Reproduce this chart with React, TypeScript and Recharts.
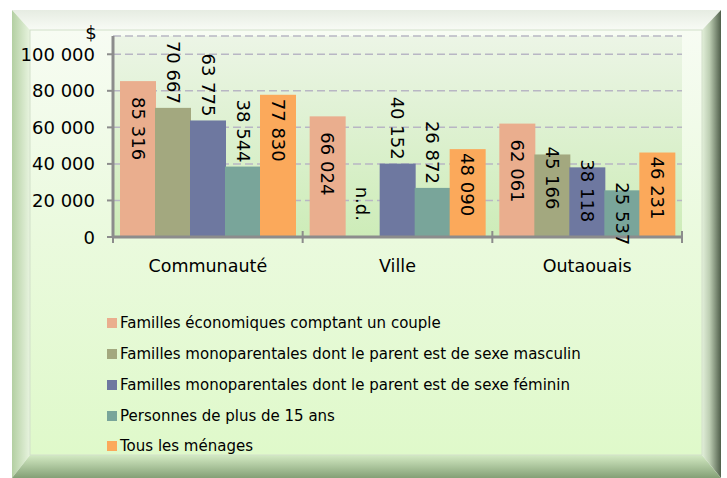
import React from 'react';
import { BarChart, Bar, XAxis, YAxis, CartesianGrid, Legend, LabelList } from 'recharts';

// ---------- data ----------
const categories = ['Communauté', 'Ville', 'Outaouais'];
const seriesNames = [
  'Familles économiques comptant un couple',
  'Familles monoparentales dont le parent est de sexe masculin',
  'Familles monoparentales dont le parent est de sexe féminin',
  'Personnes de plus de 15 ans',
  'Tous les ménages',
];
const famillesCouple = [85316, 66024, 62061];
const monoMasculin: (number | null)[] = [70667, null, 45166];
const monoFeminin = [63775, 40152, 38118];
const personnes15 = [38544, 26872, 25537];
const tousMenages = [77830, 48090, 46231];
const yTicks = [0, 20000, 40000, 60000, 80000, 100000];
const yMax = 110000;
const unitLabel = '$';
const notAvailableLabel = 'n.d.';

// ---------- styles ----------
const FONT = '"DejaVu Sans", "Noto Sans", sans-serif';
const seriesKeys = ['s0', 's1', 's2', 's3', 's4'];
const seriesColors = ['#EAAE8E', '#A3A87F', '#6E78A0', '#79A59A', '#FBA95B'];
const labelModes = [
  { mode: 'inside', gap: 16 },
  { mode: 'outside', gap: 4 },
  { mode: 'outside', gap: 4 },
  { mode: 'outside', gap: 4 },
  { mode: 'inside', gap: 4 },
];
const crowdedCategoryIndex = 2;
const AXIS = '#8c8c8c';

const seriesValues = [famillesCouple, monoMasculin, monoFeminin, personnes15, tousMenages];
const data = categories.map((c, i) => {
  const row: any = { category: c };
  seriesKeys.forEach((k, s) => {
    row[k] = seriesValues[s][i];
  });
  return row;
});

const fmt = (v: number) => String(v).replace(/\B(?=(\d{3})+(?!\d))/g, ' ');

const makeLabel = (s: number) => (props: any) => {
  const vb = props.viewBox ?? props;
  const x = vb.x ?? props.x;
  const y = vb.y ?? props.y;
  const width = vb.width ?? props.width;
  const height = vb.height ?? props.height ?? 0;
  if (x == null || y == null || isNaN(x) || isNaN(y)) return null;
  const value = props.value;
  const cx = x + width / 2;
  const top = Math.min(y, y + height);
  let ty: number;
  let anchor: 'start' | 'end';
  let text: string;
  if (value === notAvailableLabel || value == null) {
    text = notAvailableLabel;
    anchor = 'end';
    ty = Math.max(y, y + height) - 16;
  } else {
    text = fmt(Number(value));
    const lm = labelModes[s];
    if (lm.mode === 'inside') {
      anchor = 'start';
      ty = top + lm.gap;
    } else if (props.index === crowdedCategoryIndex) {
      anchor = 'start';
      ty = top - 8;
    } else {
      anchor = 'end';
      ty = top - lm.gap;
    }
  }
  return (
    <text
      x={cx}
      y={ty}
      transform={`rotate(90 ${cx} ${ty})`}
      textAnchor={anchor}
      dominantBaseline="central"
      fontFamily={FONT}
      fontSize={18}
      fill="#000"
    >
      {text}
    </text>
  );
};

const BarShape = (p: any) => {
  if (!(p.height > 0)) return null;
  return <rect x={p.x} y={p.y} width={p.width} height={p.height + 4} fill={p.fill} />;
};

const CategoryTick = (props: any) => {
  const { x, y, payload, index, visibleTicksCount } = props;
  const off = payload?.offset ?? 0;
  const lines = [x - off];
  if (index === (visibleTicksCount ?? categories.length) - 1) lines.push(x + off);
  return (
    <g>
      {lines.map((lx, i) => (
        <line key={i} x1={lx} x2={lx} y1={y - 6} y2={y + 6} stroke={AXIS} strokeWidth={2} />
      ))}
      <text x={x} y={y + 35} textAnchor="middle" fontFamily={FONT} fontSize={17.5} fill="#000">
        {payload.value}
      </text>
    </g>
  );
};

const ValueTick = (props: any) => {
  const { x, y, payload } = props;
  return (
    <text x={x} y={y} textAnchor="end" dominantBaseline="central" fontFamily={FONT} fontSize={18} fill="#000">
      {fmt(payload.value)}
    </text>
  );
};

const renderLegend = (props: any) => {
  const payload = [...(props.payload || [])].sort(
    (a: any, b: any) => seriesNames.indexOf(a.value) - seriesNames.indexOf(b.value)
  );
  return (
    <div style={{ fontFamily: FONT, fontSize: 15, color: '#000' }}>
      {payload.map((e: any) => (
        <div
          key={e.value}
          style={{ display: 'flex', alignItems: 'center', height: 30.75, whiteSpace: 'nowrap' }}
        >
          <span
            style={{ width: 10, height: 10, background: e.color, marginRight: 3, display: 'inline-block' }}
          />
          <span>{e.value}</span>
        </div>
      ))}
    </div>
  );
};

const Frame = () => (
  <svg width={727} height={478} style={{ position: 'absolute', left: 0, top: 0 }}>
    <defs>
      <linearGradient id="panelGrad" x1="0" y1="0" x2="0" y2="1">
        <stop offset="0" stopColor="#f7fcf3" />
        <stop offset="0.45" stopColor="#ebfadf" />
        <stop offset="1" stopColor="#dff9ca" />
      </linearGradient>
      <linearGradient id="plotGrad" x1="0" y1="0" x2="0" y2="1">
        <stop offset="0" stopColor="#ecf5e6" />
        <stop offset="1" stopColor="#cdecb8" />
      </linearGradient>
      <linearGradient id="leftBevel" x1="0" y1="0" x2="1" y2="0">
        <stop offset="0" stopColor="#b3cfa2" />
        <stop offset="1" stopColor="#e8f4df" />
      </linearGradient>
      <linearGradient id="rightBevel" x1="0" y1="0" x2="1" y2="0">
        <stop offset="0" stopColor="#e3f0da" />
        <stop offset="0.4" stopColor="#bccdb2" />
        <stop offset="1" stopColor="#4f5e4a" />
      </linearGradient>
      <linearGradient id="topBevel" x1="0" y1="0" x2="0" y2="1">
        <stop offset="0" stopColor="#e6ece2" />
        <stop offset="1" stopColor="#f8fbf5" />
      </linearGradient>
      <linearGradient id="bottomBevel" x1="0" y1="0" x2="0" y2="1">
        <stop offset="0" stopColor="#d3eac3" />
        <stop offset="1" stopColor="#84a076" />
      </linearGradient>
    </defs>
    <rect x={0} y={0} width={727} height={478} fill="#ffffff" />
    <polygon points="12,10 721,10 702,30 30,30" fill="url(#topBevel)" />
    <polygon points="12,10 30,30 30,455 12,478" fill="url(#leftBevel)" />
    <polygon points="721,10 721,478 702,455 702,30" fill="url(#rightBevel)" />
    <polygon points="12,478 30,455 702,455 721,478" fill="url(#bottomBevel)" />
    <rect x={30} y={30} width={672} height={425} fill="url(#panelGrad)" stroke="#d2dfca" strokeWidth={1} />
  </svg>
);

export default function App() {
  return (
    <div style={{ position: 'absolute', left: 0, top: 0, width: 727, height: 478, overflow: 'hidden' }}>
      <Frame />
      <div style={{ position: 'absolute', left: 0, top: 0 }}>
        <BarChart
          width={727}
          height={478}
          data={data}
          margin={{ top: 36, right: 45, left: 23, bottom: 211 }}
          barCategoryGap={7}
          barGap={-1}
        >
          <CartesianGrid
            vertical={false}
            stroke="#b8b6c4"
            strokeWidth={1.5}
            strokeDasharray="8 4"
            fill="url(#plotGrad)"
            fillOpacity={1}
          />
          {seriesKeys.map((k, s) => (
            <Bar
              key={k}
              dataKey={(d: any) => d[k] ?? 0}
              name={seriesNames[s]}
              fill={seriesColors[s]}
              isAnimationActive={false}
              shape={BarShape}
            >
              <LabelList
                valueAccessor={(entry: any) => {
                  const raw = entry?.payload?.[k];
                  return raw == null ? notAvailableLabel : raw;
                }}
                content={makeLabel(s)}
              />
            </Bar>
          ))}
          <XAxis
            dataKey="category"
            height={30}
            axisLine={{ stroke: AXIS, strokeWidth: 3 }}
            tickLine={false}
            tickSize={0}
            tickMargin={0}
            interval={0}
            tick={<CategoryTick />}
          />
          <YAxis
            width={90}
            domain={[0, yMax]}
            ticks={yTicks}
            allowDataOverflow
            axisLine={{ stroke: AXIS, strokeWidth: 3 }}
            tickLine={{ stroke: AXIS, strokeWidth: 2 }}
            tickSize={6}
            tickMargin={12}
            tick={<ValueTick />}
            label={{
              content: (p: any) => {
                const vb = p.viewBox || {};
                const lx = (vb.x ?? 0) + (vb.width ?? 0) - 22;
                const ly = (vb.y ?? 0) - 4;
                return (
                  <text x={lx} y={ly} textAnchor="middle" dominantBaseline="central" fontFamily={FONT} fontSize={18} fill="#000">
                    {unitLabel}
                  </text>
                );
              },
            }}
          />
          <Legend
            layout="vertical"
            align="center"
            verticalAlign="middle"
            wrapperStyle={{ position: 'absolute', left: 107, top: 308, width: 590, height: 154 }}
            content={renderLegend}
          />
        </BarChart>
      </div>
    </div>
  );
}
